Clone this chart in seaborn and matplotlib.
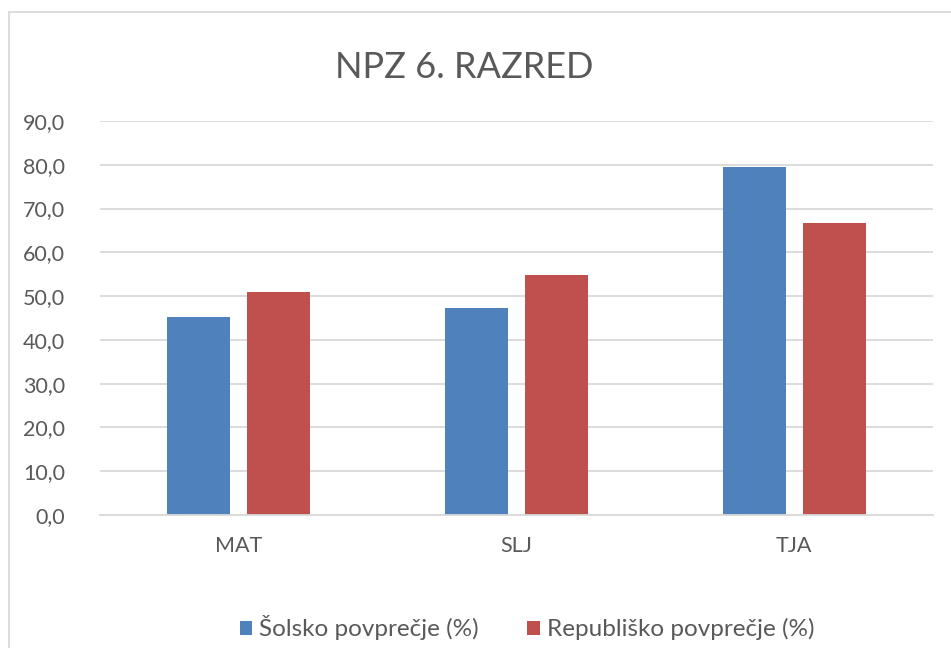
import matplotlib
matplotlib.use("Agg")
import matplotlib.pyplot as plt
import seaborn as sns
import pandas as pd
from matplotlib.patches import Rectangle
from matplotlib.ticker import FuncFormatter

categories = ["MAT", "SLJ", "TJA"]
series_names = ["Šolsko povprečje (%)", "Republiško povprečje (%)"]
school = [45.2, 47.2, 79.4]
republic = [50.9, 54.9, 66.7]
title = "NPZ 6. RAZRED"
colors = ["#4F81BD", "#C0504D"]

df = pd.DataFrame({
    "cat": categories * 2,
    "series": [series_names[0]] * 3 + [series_names[1]] * 3,
    "val": school + republic,
})

sns.set_theme(style="white")
plt.rcParams["font.family"] = ["Lato", "DejaVu Sans"]

fig = plt.figure(figsize=(9.51, 6.48), dpi=100)
ax = fig.add_axes([100 / 951, 1 - 515 / 648, 833 / 951, 394 / 648])

sns.barplot(data=df, x="cat", y="val", hue="series", palette=colors,
            width=0.576, gap=0.21, ax=ax, saturation=1, legend=True,
            edgecolor="none", linewidth=0)

ax.set_ylim(0, 90)
ax.set_yticks(range(0, 91, 10))
ax.yaxis.set_major_formatter(FuncFormatter(lambda v, p: f"{v:.1f}".replace(".", ",")))
ax.grid(axis="y", color="#D9D9D9", linewidth=1.3)
ax.set_axisbelow(True)
for s in ["top", "right", "left"]:
    ax.spines[s].set_visible(False)
ax.spines["bottom"].set_color("#D9D9D9")
ax.spines["bottom"].set_linewidth(1.3)
ax.set_xlabel("")
ax.set_ylabel("")
ax.tick_params(axis="y", length=0, pad=25, labelsize=15.5, labelcolor="#595959")
ax.tick_params(axis="x", length=0, pad=15, labelsize=15.5, labelcolor="#595959")

handles, labels = ax.get_legend_handles_labels()
ax.legend_.remove()
fig.legend(handles, labels, loc="center", bbox_to_anchor=(527 / 951, 1 - 628 / 648),
           ncol=2, frameon=False, fontsize=17.5, labelcolor="#595959",
           handlelength=0.5, handleheight=0.5, handletextpad=0.3, columnspacing=2.0)

fig.text(464 / 951, 1 - 68 / 648, title, ha="center", va="center",
         fontsize=26, color="#595959")

fig.patches.append(Rectangle((9 / 951, -0.01), 1.0, 1 - 12 / 648 + 0.01,
                             transform=fig.transFigure, fill=False,
                             edgecolor="#D9D9D9", linewidth=1.3))

fig.savefig("out.png", dpi=100)
